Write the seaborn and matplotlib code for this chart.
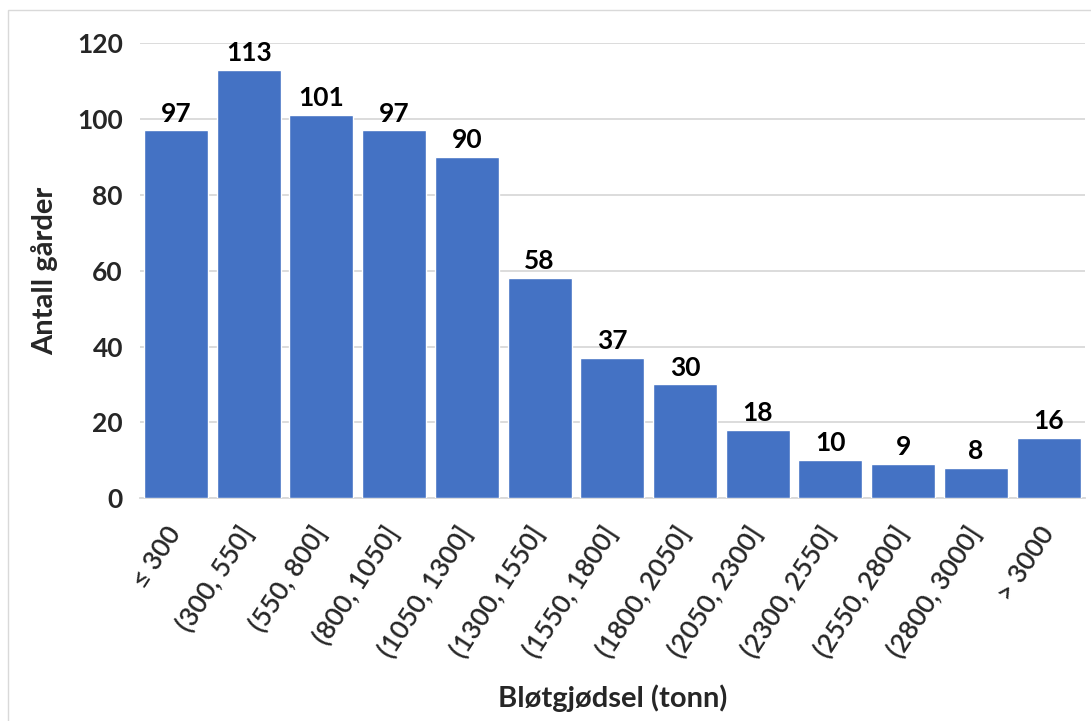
import numpy as np
import pandas as pd
import seaborn as sns
import matplotlib
matplotlib.use("Agg")
import matplotlib.pyplot as plt

# data
categories = ["≤ 300", "(300, 550]", "(550, 800]", "(800, 1050]", "(1050, 1300]",
              "(1300, 1550]", "(1550, 1800]", "(1800, 2050]", "(2050, 2300]",
              "(2300, 2550]", "(2550, 2800]", "(2800, 3000]", "> 3000"]
counts = [97, 113, 101, 97, 90, 58, 37, 30, 18, 10, 9, 8, 16]
yticks = [0, 20, 40, 60, 80, 100, 120]

df = pd.DataFrame({"kat": categories, "antall": counts})

sns.set_style("white")
plt.rcParams["font.family"] = ["Lato", "DejaVu Sans"]

fig = plt.figure(figsize=(10.91, 7.21), dpi=100)
ax = fig.add_axes([0.128, 0.309, 0.8665, 0.631])

sns.barplot(data=df, x="kat", y="antall", color="#4472C4", width=0.88,
            saturation=1, ax=ax, zorder=3)

ax.set_ylim(0, 120)
ax.set_yticks(yticks)
ax.set_xlim(-0.5, len(categories) - 0.5)
ax.yaxis.grid(True, color="#D9D9D9", linewidth=1.3, zorder=0)

for i, v in enumerate(counts):
    ax.text(i, v + 1.3, str(v), ha="center", va="bottom",
            fontsize=19, fontweight="bold", color="black")

for s in ["top", "right", "left"]:
    ax.spines[s].set_visible(False)
ax.spines["bottom"].set_color("#D9D9D9")
ax.spines["bottom"].set_linewidth(1.3)

ax.set_xticks(np.arange(len(categories)))
ax.set_xticklabels(categories, rotation=57, ha="right", va="center",
                   rotation_mode="anchor", fontsize=19, fontweight="semibold")
ax.set_xticks(np.arange(len(categories) + 1) - 0.5, minor=True)
ax.tick_params(axis="x", which="major", length=0, pad=22)
ax.tick_params(axis="x", which="minor", length=6, color="#D9D9D9", width=1.3)
ax.tick_params(axis="y", length=7, color="#D9D9D9", width=1.3, labelsize=19, pad=5)
for lbl in ax.get_yticklabels():
    lbl.set_fontweight("bold")

ax.set_xlabel("Bløtgjødsel (tonn)", fontsize=21, fontweight="bold", labelpad=16)
ax.set_ylabel("Antall gårder", fontsize=21, fontweight="bold", labelpad=14)

# thin frame round the chart
fig.patches.append(plt.Rectangle((0.0075, -0.05), 1.2, 1.036, transform=fig.transFigure,
                                 fill=False, edgecolor="#D9D9D9", linewidth=1))

fig.savefig("out.png", dpi=100)
